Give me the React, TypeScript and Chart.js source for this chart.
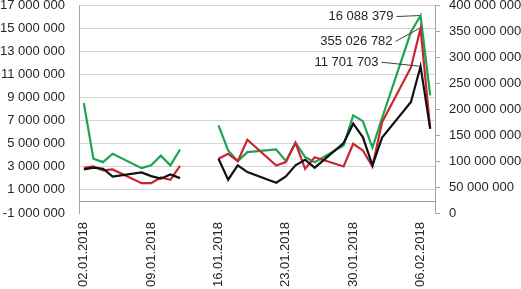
import { useEffect, useRef } from 'react';
import { Chart, registerables } from 'chart.js';

Chart.register(...registerables);

// ---- data ----
const dates = [
  '02.01.2018', '03.01.2018', '04.01.2018', '05.01.2018', '08.01.2018', '09.01.2018',
  '10.01.2018', '11.01.2018', '12.01.2018', '16.01.2018', '17.01.2018', '18.01.2018',
  '19.01.2018', '22.01.2018', '23.01.2018', '24.01.2018', '25.01.2018', '26.01.2018',
  '29.01.2018', '30.01.2018', '31.01.2018', '01.02.2018', '02.02.2018', '05.02.2018',
  '06.02.2018', '07.02.2018',
];

// left axis
const greenSeries = [
  8510000, 3700000, 3400000, 4130000, 2880000, 3120000, 3960000, 3120000, 4500000,
  6580000, 4420000, 3490000, 4270000, 4500000, 3490000, 5080000, 3840000, 3400000,
  4850000, 7450000, 6950000, 4650000, 7220000, 14660000, 16088379, 9180000,
];

// left axis
const blackSeries = [
  2770000, 2920000, 2830000, 2160000, 2510000, 2190000, 1970000, 2340000, 2020000,
  3700000, 1880000, 3120000, 2540000, 1620000, 2160000, 3120000, 3610000, 2920000,
  5050000, 6730000, 5570000, 3120000, 5520000, 8600000, 11701703, 6290000,
];

// right axis
const redSeries = [
  87000000, 89500000, 81800000, 83700000, 57300000, 57300000, 68300000, 63900000, 90800000,
  104300000, 113900000, 99700000, 140800000, 91400000, 97800000, 135100000, 85000000, 107400000,
  89500000, 133200000, 120300000, 89500000, 174700000, 280000000, 355026782, 162000000,
];

const leftAxis = { min: -1000000, max: 17000000, step: 2000000 };
const rightAxis = { min: 0, max: 400000000, step: 50000000 };
const xTickStepDays = 7;

// labelled points (index into dates)
const labelledPoints = [
  { series: 'green', index: 24 },
  { series: 'red', index: 24 },
  { series: 'black', index: 24 },
];

// ---- helpers ----
const DAY = 86400000;
const parseDate = (s: string) => {
  const [d, m, y] = s.split('.').map(Number);
  return Date.UTC(y, m - 1, d);
};
const baseDate = parseDate(dates[0]);
const dayIndex = (s: string) => Math.round((parseDate(s) - baseDate) / DAY);
const pad2 = (n: number) => String(n).padStart(2, '0');
const dayLabel = (i: number) => {
  const d = new Date(baseDate + i * DAY);
  return pad2(d.getUTCDate()) + '.' + pad2(d.getUTCMonth() + 1) + '.' + d.getUTCFullYear();
};
const fmt = (v: number) => {
  const s = Math.round(Math.abs(v)).toString().replace(/\B(?=(\d{3})+(?!\d))/g, ' ');
  return (v < 0 ? '-' : '') + s;
};
const toPoints = (vals: number[]) => vals.map((v, i) => ({ x: dayIndex(dates[i]), y: v }));

const FONT = { family: '"Liberation Sans", Arial, sans-serif', size: 13 };
const TEXT = '#262626';
const GRID = '#d4d4d4';
const AXIS = '#a6a6a6';

const zeroLinePlugin = {
  id: 'zeroLine',
  beforeDatasetsDraw(chart: any) {
    const { ctx, chartArea, scales } = chart;
    const y = Math.round(scales.y.getPixelForValue(0)) + 0.5;
    ctx.save();
    ctx.strokeStyle = '#9a9a9a';
    ctx.lineWidth = 1;
    ctx.beginPath();
    ctx.moveTo(chartArea.left, y);
    ctx.lineTo(chartArea.right, y);
    ctx.stroke();
    ctx.restore();
  },
};

const labelOffsets: Record<string, { dx: number; dy: number }> = {
  green: { dx: -27, dy: 1 },
  red: { dx: -28, dy: 13 },
  black: { dx: -42, dy: -4 },
};

const dataLabelPlugin = {
  id: 'peakLabels',
  afterDatasetsDraw(chart: any) {
    const { ctx } = chart;
    ctx.save();
    ctx.font = `${FONT.size}px ${FONT.family}`;
    ctx.fillStyle = TEXT;
    ctx.textAlign = 'right';
    ctx.textBaseline = 'middle';
    labelledPoints.forEach((lp) => {
      const dsIndex = chart.data.datasets.findIndex((d: any) => d.key === lp.series);
      const meta = chart.getDatasetMeta(dsIndex);
      const el = meta.data[lp.index];
      const value = chart.data.datasets[dsIndex].data[lp.index].y;
      const off = labelOffsets[lp.series];
      const tx = el.x + off.dx;
      const ty = el.y + off.dy;
      ctx.fillText(fmt(value), tx, ty);
      ctx.strokeStyle = '#404040';
      ctx.lineWidth = 1;
      ctx.beginPath();
      ctx.moveTo(tx + 3, ty);
      ctx.lineTo(el.x - 1, el.y);
      ctx.stroke();
    });
    ctx.restore();
  },
};

export default function App() {
  const ref = useRef<HTMLCanvasElement | null>(null);

  useEffect(() => {
    if (!ref.current) return;
    const lastDay = dayIndex(dates[dates.length - 1]);
    const chart = new Chart(ref.current, {
      type: 'line',
      data: {
        datasets: [
          {
            key: 'black',
            data: toPoints(blackSeries),
            borderColor: '#111111',
            yAxisID: 'y',
          },
          {
            key: 'red',
            data: toPoints(redSeries),
            borderColor: '#c8252f',
            yAxisID: 'y1',
          },
          {
            key: 'green',
            data: toPoints(greenSeries),
            borderColor: '#1aa552',
            yAxisID: 'y',
          },
        ] as any,
      },
      options: {
        animation: false,
        responsive: false,
        devicePixelRatio: 1,
        spanGaps: 3,
        layout: { padding: { top: 5, left: 0, right: 0, bottom: 0 } },
        elements: {
          line: { borderWidth: 2.2, tension: 0 },
          point: { radius: 0, hoverRadius: 0 },
        },
        plugins: {
          legend: { display: false },
          tooltip: { enabled: false },
        },
        scales: {
          x: {
            type: 'linear',
            min: -0.5,
            max: lastDay + 0.5,
            grid: { display: false },
            border: { display: false },
            ticks: {
              stepSize: xTickStepDays,
              includeBounds: false,
              autoSkip: false,
              minRotation: 90,
              maxRotation: 90,
              padding: 1,
              color: TEXT,
              font: FONT,
              callback: (v: any) => dayLabel(Number(v)),
            },
            afterFit: (s: any) => {
              s.height = 76;
              s.paddingLeft = 0;
              s.paddingRight = 0;
            },
          },
          y: {
            type: 'linear',
            position: 'left',
            min: leftAxis.min,
            max: leftAxis.max,
            border: { display: true, color: AXIS },
            grid: {
              drawTicks: false,
              color: (c: any) => (c.tick && c.tick.value === leftAxis.min ? 'rgba(0,0,0,0)' : GRID),
            },
            ticks: {
              stepSize: leftAxis.step,
              padding: 14,
              color: TEXT,
              font: FONT,
              callback: (v: any) => fmt(Number(v)),
            },
            afterFit: (s: any) => {
              s.width = 79;
              s.paddingTop = 0;
              s.paddingBottom = 0;
            },
          },
          y1: {
            type: 'linear',
            position: 'right',
            min: rightAxis.min,
            max: rightAxis.max,
            border: { display: true, color: AXIS },
            grid: { drawOnChartArea: false, drawTicks: true, tickLength: 5, color: AXIS },
            ticks: {
              stepSize: rightAxis.step,
              padding: 9,
              color: TEXT,
              font: FONT,
              callback: (v: any) => fmt(Number(v)),
            },
            afterFit: (s: any) => {
              s.width = 86;
              s.paddingTop = 0;
              s.paddingBottom = 0;
            },
          },
        },
      } as any,
      plugins: [zeroLinePlugin, dataLabelPlugin],
    });
    return () => chart.destroy();
  }, []);

  return (
    <div style={{ position: 'fixed', left: 0, top: 0, width: 521, height: 289, background: '#fff' }}>
      <canvas ref={ref} width={521} height={289} style={{ display: 'block' }} />
    </div>
  );
}
